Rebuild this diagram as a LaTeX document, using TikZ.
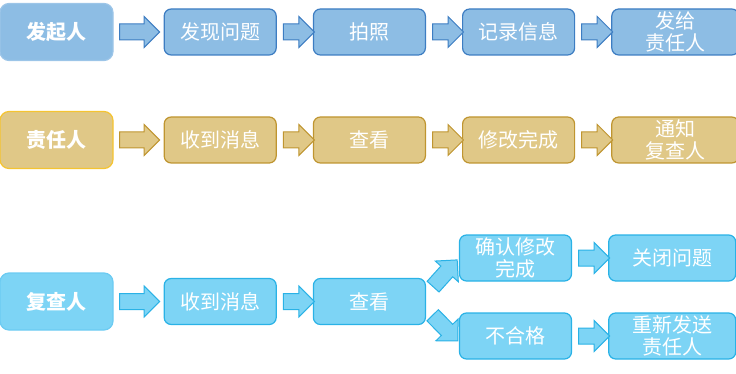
\documentclass[tikz,border=0pt]{standalone}
\usepackage{fontspec}
\setmainfont{Noto Sans CJK SC}
\usepackage{tikz}
\usetikzlibrary{positioning,calc,shapes.arrows}
\definecolor{fillA}{HTML}{8DBDE4}
\definecolor{lineA}{HTML}{3D7DC2}
\definecolor{edgeA}{HTML}{9CC5E8}
\definecolor{fillB}{HTML}{E0C887}
\definecolor{lineB}{HTML}{BF9530}
\definecolor{edgeB}{HTML}{F5C431}
\definecolor{fillC}{HTML}{7DD4F5}
\definecolor{lineC}{HTML}{2AB2E6}
\definecolor{edgeC}{HTML}{6CCBF2}
\tikzset{
  actor/.style={draw, rounded corners=9pt, line width=1.2pt, text=white,
                minimum width=113pt, minimum height=57pt, inner sep=1pt,
                font=\fontsize{20pt}{22pt}\selectfont\bfseries},
  proc/.style={draw, rounded corners=7pt, line width=1.2pt, text=white, align=center,
               minimum width=112pt, minimum height=46pt, inner sep=1pt,
               font=\fontsize{20pt}{22pt}\selectfont},
  wide/.style={minimum width=127pt},
  barr/.style={single arrow, draw, line width=1pt, inner sep=7.5pt,
               single arrow head extend=7.5pt, minimum height=31pt},
  first/.style={minimum height=40pt, pos=0.44},
  rowA/.style={fill=fillA, draw=lineA},
  rowB/.style={fill=fillB, draw=lineB},
  rowC/.style={fill=fillC, draw=lineC},
}
\begin{document}
\begin{tikzpicture}[x=1pt, y=1pt, node distance=36pt]
\useasboundingbox (0,0) rectangle (736,-374);
% row 1
\node[actor, fill=fillA, draw=edgeA] (starter) at (56.5,-32) {发起人};
\node[proc, rowA, right=50pt of starter] (find) {发现问题};
\node[proc, rowA, right=of find] (photo) {拍照};
\node[proc, rowA, right=of photo] (record) {记录信息};
\node[proc, rowA, wide, right=of record] (sendA) {发给\\责任人};
\path (starter) -- node[barr, rowA, sloped, first] {} (find);
\path (find) -- node[barr, rowA, sloped] {} (photo);
\path (photo) -- node[barr, rowA, sloped] {} (record);
\path (record) -- node[barr, rowA, sloped] {} (sendA);
% row 2
\node[actor, fill=fillB, draw=edgeB] (owner) at (56.5,-140) {责任人};
\node[proc, rowB, right=50pt of owner] (recv) {收到消息};
\node[proc, rowB, right=of recv] (check) {查看};
\node[proc, rowB, right=of check] (fixed) {修改完成};
\node[proc, rowB, wide, right=of fixed] (notify) {通知\\复查人};
\path (owner) -- node[barr, rowB, sloped, first] {} (recv);
\path (recv) -- node[barr, rowB, sloped] {} (check);
\path (check) -- node[barr, rowB, sloped] {} (fixed);
\path (fixed) -- node[barr, rowB, sloped] {} (notify);
% row 3
\node[actor, fill=fillC, draw=edgeC] (reviewer) at (56.5,-301.5) {复查人};
\node[proc, rowC, right=50pt of reviewer] (recvR) {收到消息};
\node[proc, rowC, right=of recvR] (checkR) {查看};
\node[proc, rowC] (confirm) at (515.5,-258) {确认修改\\完成};
\node[proc, rowC, wide, right=of confirm] (close) {关闭问题};
\node[proc, rowC] (reject) at (515.5,-336) {不合格};
\node[proc, rowC, wide, right=of reject] (resend) {重新发送\\责任人};
\path (reviewer) -- node[barr, rowC, sloped, first] {} (recvR);
\path (recvR) -- node[barr, rowC, sloped] {} (checkR);
\path ([yshift=7pt]checkR.east) -- node[barr, rowC, sloped, minimum height=36pt] {} (confirm.west);
\path ([yshift=-7pt]checkR.east) -- node[barr, rowC, sloped, minimum height=36pt] {} ([yshift=-6pt]reject.west);
\path (confirm) -- node[barr, rowC, sloped] {} (close);
\path (reject) -- node[barr, rowC, sloped] {} (resend);
\end{tikzpicture}
\end{document}
